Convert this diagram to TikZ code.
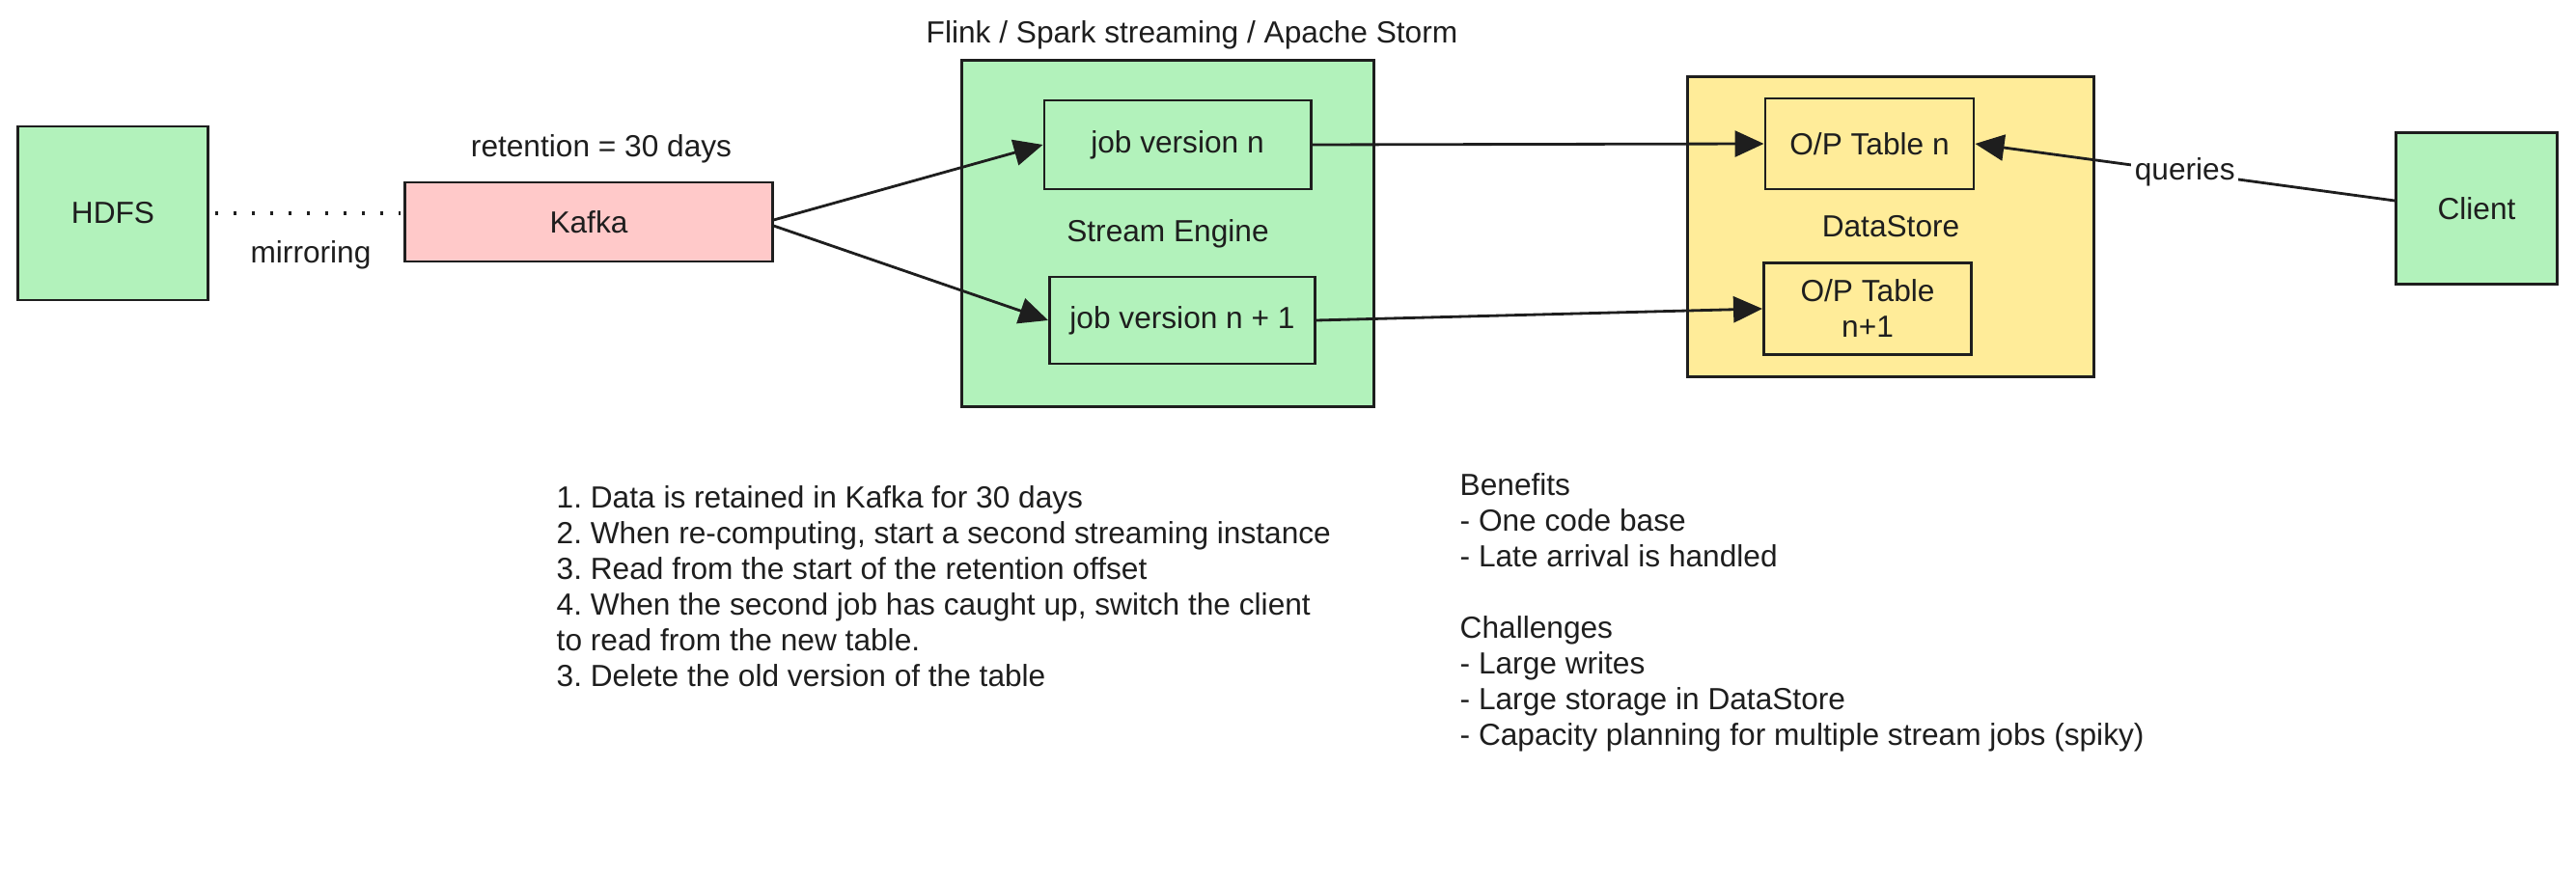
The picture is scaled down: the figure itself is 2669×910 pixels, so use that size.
\documentclass[tikz,border=0pt]{standalone}
\usepackage{fontspec}
\setmainfont{Liberation Sans}
\usetikzlibrary{positioning, arrows.meta}
\frenchspacing

\definecolor{boxgreen}{RGB}{178,242,187}
\definecolor{boxpink}{RGB}{255,201,201}
\definecolor{boxyellow}{RGB}{255,236,153}
\definecolor{inkgray}{RGB}{30,30,30}

\begin{document}
\begin{tikzpicture}[x=0.01cm,y=-0.01cm,>={Triangle[length=0.3cm,width=0.27cm]},
			every node/.style={font=\fontsize{9pt}{10.5pt}\selectfont, text=inkgray},
			block/.style={draw=inkgray, line width=0.8pt, align=center, inner sep=0pt},
			link/.style={->, draw=inkgray, line width=0.8pt}]
			
			\useasboundingbox (0,0) rectangle (2669,910);
			
			% sources
			\node[block, fill=boxgreen, minimum width=1.97cm, minimum height=1.80cm] (hdfs) at (117,221) {HDFS};
			\node[block, fill=boxpink, minimum width=3.80cm, minimum height=0.82cm] (kafka) at (610,230) {Kafka};
			\node[anchor=base] (retention) at (623,163) {retention = 30 days};
			\node[anchor=base] (mirroring) at (322,273) {mirroring};
			
			% stream engine
			\node[block, fill=boxgreen, minimum width=4.27cm, minimum height=3.58cm] (engine) at (1210,242) {Stream Engine};
			\node[anchor=base] (flink) at (1235,45) {Flink / Spark streaming / Apache Storm};
			\node[block, fill=boxgreen, minimum width=2.76cm, minimum height=0.92cm] (jobn) at (1220,150) {job version n};
			\node[block, fill=boxgreen, minimum width=2.75cm, minimum height=0.90cm] (jobnext) at (1225,332) {job version n + 1};
			
			% datastore
			\node[block, fill=boxyellow, minimum width=4.21cm, minimum height=3.11cm] (store) at (1959,235) {DataStore};
			\node[block, fill=boxyellow, minimum width=2.16cm, minimum height=0.94cm] (tablen) at (1937,149) {O/P Table n};
			\node[block, fill=boxyellow, minimum width=2.15cm, minimum height=0.95cm] (tablenext) at (1935,320) {O/P Table\\n+1};
			
			\node[block, fill=boxgreen, minimum width=1.67cm, minimum height=1.57cm] (client) at (2566,216) {Client};
			
			\draw[inkgray, line width=0.9pt, dash pattern=on 0.03cm off 0.16cm] ([xshift=0.06cm]hdfs.east) -- ([xshift=-0.03cm]hdfs.east -| kafka.west);
			\draw[link] ([yshift=0.02cm]kafka.east) -- (jobn.west);
			\draw[link] ([yshift=-0.04cm]kafka.east) -- (jobnext.west);
			\draw[link] (jobn.east) -- (tablen.west);
			\draw[link] (jobnext.east) -- (tablenext.west);
			\draw[link] ([yshift=0.08cm]client.west) -- node[fill=white, inner sep=1pt] {queries} (tablen.east);
			
			% notes
			\node[anchor=north west, align=left, inner sep=0pt] (steps) at (576,503) {1. Data is retained in Kafka for 30 days\\2. When re-computing, start a second streaming instance\\3. Read from the start of the retention offset\\4. When the second job has caught up, switch the client\\to read from the new table.\\3. Delete the old version of the table};
			\node[anchor=north west, align=left, inner sep=0pt] (notes) at (1512,490) {Benefits\\- One code base\\- Late arrival is handled\\[10.5pt]Challenges\\- Large writes\\- Large storage in DataStore\\- Capacity planning for multiple stream jobs (spiky)};
		\end{tikzpicture}
\end{document}
